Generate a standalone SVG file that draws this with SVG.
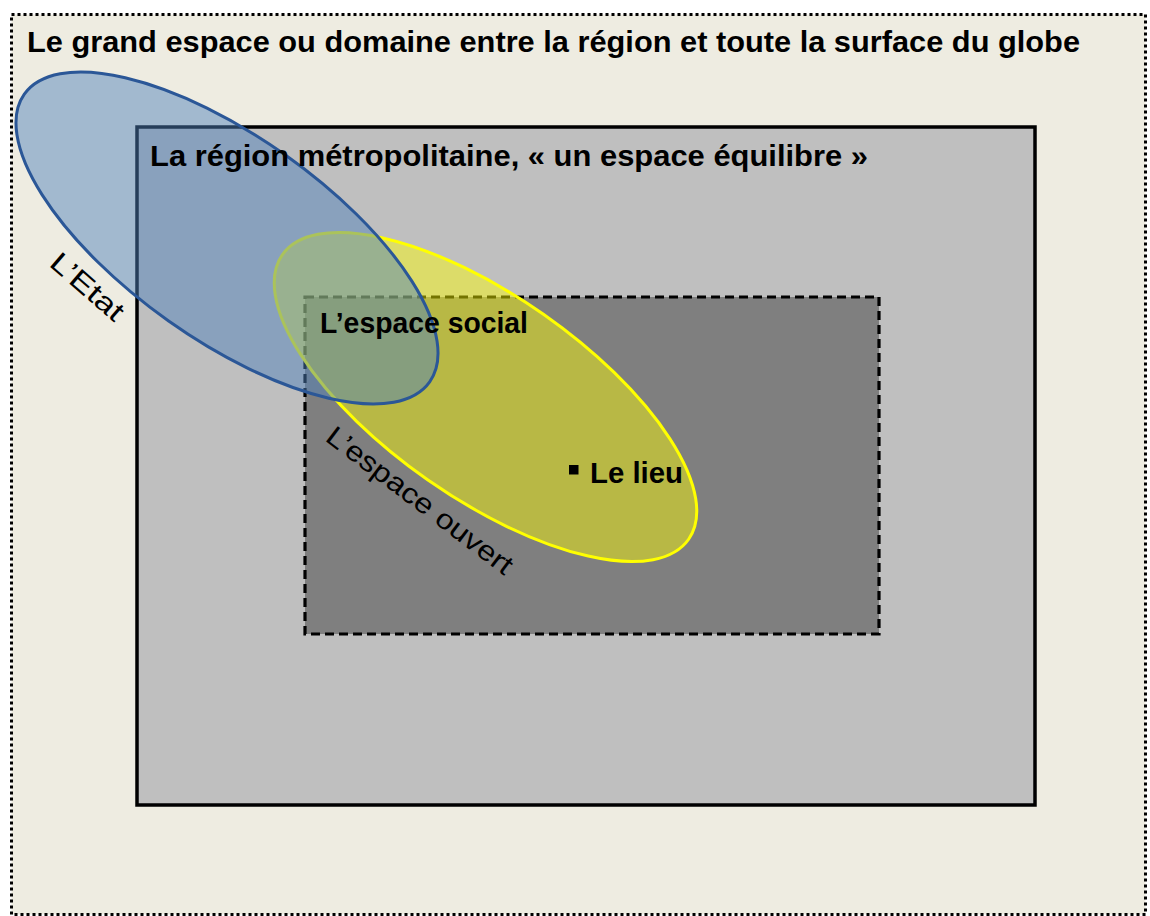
<svg xmlns="http://www.w3.org/2000/svg" width="1150" height="916" viewBox="0 0 1150 916">
<style>
.t{font-family:"Liberation Sans",Arial,sans-serif;fill:#000}
.b{font-weight:bold}
</style>
<rect x="0" y="0" width="1150" height="916" fill="#ffffff"/>
<g id="globe">
<rect x="11.5" y="14.5" width="1134" height="900" fill="#EEECE1" stroke="#000" stroke-width="3" stroke-dasharray="3 3"/>
</g>
<g id="region">
<rect x="137" y="127" width="898" height="678" fill="#BFBFBF" stroke="#000" stroke-width="3.5"/>
</g>
<g id="ouvert">
<rect x="305" y="297" width="574" height="337" fill="#7F7F7F" stroke="#000" stroke-width="3.2" stroke-dasharray="9 5"/>
</g>
<g id="social">
<ellipse cx="485.5" cy="397" rx="248" ry="101" transform="rotate(35 485.5 397)" fill="#FFFF00" fill-opacity="0.45" stroke="#FFFF00" stroke-width="3"/>
</g>
<g id="etat">
<ellipse cx="227" cy="238" rx="248.5" ry="101.5" transform="rotate(35.35 227 238)" fill="#4F81BD" fill-opacity="0.48" stroke="#2B5797" stroke-width="3"/>
</g>
<g id="labels">
<text class="t b" x="27" y="52" font-size="29" textLength="1053" lengthAdjust="spacingAndGlyphs">Le grand espace ou domaine entre la région et toute la surface du globe</text>
<text class="t b" x="150" y="166" font-size="29" textLength="718" lengthAdjust="spacingAndGlyphs">La région métropolitaine, « un espace équilibre »</text>
<text class="t b" x="320" y="333" font-size="29" textLength="208" lengthAdjust="spacingAndGlyphs">L’espace social</text>
<g id="lieu">
<rect x="569" y="465" width="9.5" height="9.5" fill="#000"/>
<text class="t b" x="590" y="483" font-size="29" textLength="93" lengthAdjust="spacingAndGlyphs">Le lieu</text>
</g>
<text class="t" x="0" y="0" font-size="28" textLength="88" lengthAdjust="spacingAndGlyphs" transform="translate(48 265) rotate(41)">L’Etat</text>
<text class="t" x="0" y="0" font-size="28" textLength="226" lengthAdjust="spacingAndGlyphs" transform="translate(324 440) rotate(37)">L’espace ouvert</text>
</g>
</svg>
